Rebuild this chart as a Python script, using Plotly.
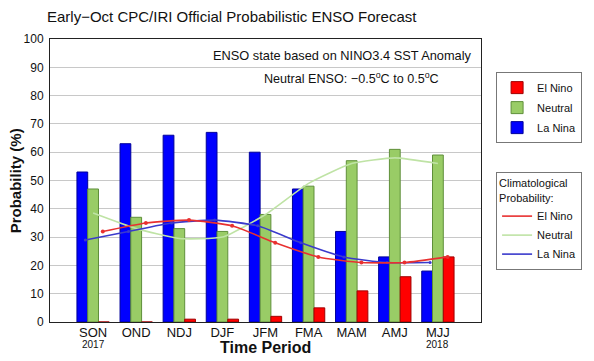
import plotly.graph_objects as go

periods = ["SON", "OND", "NDJ", "DJF", "JFM", "FMA", "MAM", "AMJ", "MJJ"]
la_nina = [53, 63, 66, 67, 60, 47, 32, 23, 18]
neutral = [47, 37, 33, 32, 38, 48, 57, 61, 59]
el_nino = [0, 0, 1, 1, 2, 5, 11, 16, 23]

clim_el_nino = [32, 35, 36, 34, 28, 23, 21, 21, 23]
clim_neutral = [38.5, 33, 29.5, 30, 38, 49, 56, 58, 56]
clim_la_nina = [29, 32, 35, 36, 34, 28, 23, 21, 21]

y_ticks = list(range(0, 101, 10))
idx = list(range(len(periods)))

fig = go.Figure()

# bars (drawn first, lines on top)
fig.add_trace(go.Bar(x=idx, y=la_nina, name="La Nina", marker=dict(color="#0000ff", line=dict(color="#00009a", width=1)),
                     legend="legend", legendrank=3, legendgroup="b3"))
fig.add_trace(go.Bar(x=idx, y=neutral, name="Neutral", marker=dict(color="#99cc66", line=dict(color="#5f8f3a", width=1)),
                     legend="legend", legendrank=2, legendgroup="b2"))
fig.add_trace(go.Bar(x=idx, y=el_nino, name="El Nino", marker=dict(color="#ff0000", line=dict(color="#a00000", width=1)),
                     legend="legend", legendrank=1, legendgroup="b1"))

# climatological lines
x_neu = [i + 0.0 for i in idx]
x_lan = [i - 0.18 for i in idx]
x_eln = [i + 0.225 for i in idx]
fig.add_trace(go.Scatter(x=x_neu, y=clim_neutral, name="Neutral", mode="lines",
                         line=dict(color="#bfe3a5", width=1.6, shape="spline", smoothing=0.5),
                         legend="legend2", legendrank=2))
fig.add_trace(go.Scatter(x=x_lan, y=clim_la_nina, name="La Nina", mode="lines",
                         line=dict(color="#3a3acc", width=1.6, shape="spline", smoothing=0.5),
                         legend="legend2", legendrank=3))
fig.add_trace(go.Scatter(x=x_lan, y=clim_la_nina, mode="markers", showlegend=False,
                         marker=dict(size=3, color="#3a3acc"), hoverinfo="skip"))
fig.add_trace(go.Scatter(x=x_eln, y=clim_el_nino, name="El Nino", mode="lines",
                         line=dict(color="#e83030", width=1.6, shape="spline", smoothing=0.5),
                         legend="legend2", legendrank=1))
fig.add_trace(go.Scatter(x=x_eln, y=clim_el_nino, mode="markers", showlegend=False,
                         marker=dict(size=4, color="#e83030"), hoverinfo="skip"))

font_family = "Liberation Sans, Arial, sans-serif"

fig.update_layout(
    width=594, height=361,
    margin=dict(l=50, r=102, t=39, b=39),
    paper_bgcolor="white", plot_bgcolor="white",
    font=dict(family=font_family, color="#111111", size=12),
    barmode="group", bargap=0.25, bargroupgap=0,
    showlegend=True,
    legend=dict(x=1.035, y=0.883, xanchor="left", yanchor="top",
                bordercolor="#777777", borderwidth=1, bgcolor="white",
                font=dict(size=11), tracegroupgap=1, itemwidth=30),
    legend2=dict(x=1.035, y=0.53, xanchor="left", yanchor="top",
                 bordercolor="#777777", borderwidth=1, bgcolor="white",
                 font=dict(size=11), itemwidth=30,
                 title=dict(text="Climatological<br>Probability:", font=dict(size=11), side="top")),
    xaxis=dict(range=[-1, 9], tickmode="array", tickvals=idx, ticktext=periods,
               showgrid=False, showline=True, linecolor="#222222", linewidth=1, mirror=True,
               ticks="", tickfont=dict(size=13), ticklabelstandoff=-2, zeroline=False),
    yaxis=dict(range=[0, 100], tickmode="array", tickvals=y_ticks,
               showgrid=True, gridcolor="#c8c8c8", gridwidth=1,
               showline=True, linecolor="#222222", linewidth=1, mirror=True,
               ticks="", tickfont=dict(size=12), ticklabelstandoff=3, zeroline=False),
    title=dict(text="Early\u2212Oct CPC/IRI Official Probabilistic ENSO Forecast",
               x=47 / 594, xanchor="left", y=1 - 17 / 361, yanchor="middle",
               font=dict(size=15, color="#111111")),
)

annotations = [
    dict(text="ENSO state based on NINO3.4 SST Anomaly", x=0.984, y=0.94, xref="paper", yref="paper",
         xanchor="right", yanchor="middle", showarrow=False, font=dict(size=12.8)),
    dict(text="Neutral ENSO: \u22120.5<sup>o</sup>C to 0.5<sup>o</sup>C", x=0.908, y=0.863, xref="paper", yref="paper",
         xanchor="right", yanchor="middle", showarrow=False, font=dict(size=12.6)),
    dict(text="<b>Time Period</b>", x=0.5, y=-25 / 283, xref="paper", yref="paper",
         xanchor="center", yanchor="middle", showarrow=False, font=dict(size=16)),
    dict(text="<b>Probability (%)</b>", x=-35 / 442, y=0.5, xref="paper", yref="paper",
         xanchor="center", yanchor="middle", showarrow=False, textangle=-90, font=dict(size=15)),
    dict(text="2017", x=0, y=-22.5 / 283, xref="x", yref="paper",
         xanchor="center", yanchor="middle", showarrow=False, font=dict(size=10)),
    dict(text="2018", x=8, y=-22 / 283, xref="x", yref="paper",
         xanchor="center", yanchor="middle", showarrow=False, font=dict(size=10)),
]
fig.update_layout(annotations=annotations)

fig.write_html("out.html", config={"displayModeBar": False},
               post_script="document.body.style.margin='0';document.body.style.overflow='hidden';")
